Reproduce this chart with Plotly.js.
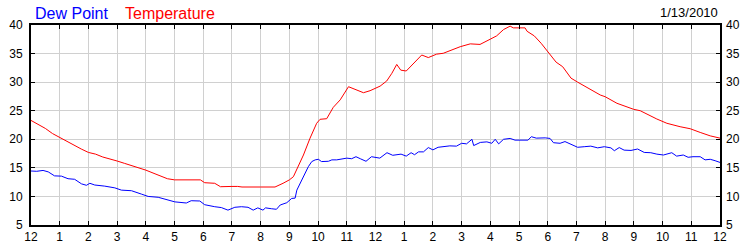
<!DOCTYPE html>
<html>
<head>
<meta charset="utf-8">
<script src="https://cdn.plot.ly/plotly-3.0.1.min.js"></script>
<style>html,body{margin:0;padding:0;background:#fff;}#chart{width:750px;height:250px;}</style>
</head>
<body>
<div id="chart"></div>
<script>
// Hours since midnight, 1/13/2010
const tempHours = [0,0.25,0.5,0.75,1.0,1.25,1.5,1.75,2.0,2.25,2.5,2.75,3.0,3.25,3.5,3.75,4.0,4.25,4.5,4.75,5.0,5.5,5.9,6.05,6.4,6.6,6.9,7.0,7.2,7.35,8.0,8.5,8.78,9.0,9.14,9.25,9.49,9.72,9.95,10.07,10.3,10.53,10.77,11.06,11.29,11.58,11.81,12.16,12.39,12.57,12.74,12.88,13.07,13.32,13.61,13.84,14.13,14.36,14.66,14.95,15.3,15.64,15.99,16.22,16.46,16.69,16.8,17.21,17.28,17.53,17.77,18.06,18.29,18.52,18.81,19.04,19.39,19.83,20.0,20.41,20.99,21.22,21.8,22.15,22.61,22.96,23.31,23.66,24.0];
const tempValues = [23.3,22.6,21.9,21.0,20.3,19.6,19.0,18.3,17.7,17.4,16.9,16.6,16.2,15.8,15.4,15.1,14.6,14.1,13.6,13.1,12.9,12.9,12.9,12.4,12.3,11.7,11.65,11.75,11.75,11.65,11.65,11.65,12.3,12.9,13.45,14.6,17.25,20.2,22.8,23.5,23.6,25.6,26.9,29.2,28.75,28.15,28.5,29.3,30.2,31.55,33.1,32.1,31.95,33.3,34.75,34.3,34.9,35.05,35.6,36.2,36.7,36.6,37.5,38.1,39.2,39.8,39.5,39.5,38.9,38.1,36.8,34.9,33.5,32.7,30.7,30.0,29.0,27.75,27.45,26.3,25.25,25.0,23.55,22.8,22.2,21.85,21.2,20.6,20.2];
const dewHours = [0,0.2,0.42,0.6,0.82,1.06,1.29,1.52,1.76,1.93,2.05,2.22,2.57,2.92,3.15,3.5,3.85,4.08,4.43,4.77,5.01,5.41,5.58,5.88,6.05,6.4,6.63,6.86,7.1,7.33,7.56,7.74,7.9,8.08,8.17,8.37,8.55,8.68,8.91,9.08,9.2,9.26,9.37,9.55,9.66,9.78,9.9,10.01,10.12,10.36,10.48,10.65,10.82,11.0,11.17,11.32,11.47,11.67,11.86,12.15,12.4,12.6,12.89,13.07,13.24,13.36,13.5,13.67,13.84,14.0,14.18,14.36,14.59,14.82,15.0,15.17,15.36,15.42,15.65,15.88,16.05,16.17,16.29,16.46,16.69,16.86,17.31,17.43,17.6,17.91,18.08,18.2,18.43,18.6,18.8,19.04,19.27,19.5,19.74,19.97,20.2,20.32,20.49,20.66,20.9,21.13,21.36,21.59,21.8,22.03,22.32,22.49,22.72,22.89,23.06,23.31,23.48,23.66,23.83,24.0];
const dewValues = [14.45,14.4,14.55,14.3,13.6,13.55,13.1,13.0,12.2,11.95,12.3,12.0,11.8,11.5,11.1,11.0,10.4,10.0,9.85,9.4,9.05,8.85,9.25,9.2,8.55,8.2,8.05,7.6,8.1,8.2,8.1,7.6,8.0,7.6,8.0,7.85,7.75,8.5,8.9,9.65,9.7,11.1,12.3,14.05,15.2,16.1,16.4,16.5,16.1,16.15,16.4,16.4,16.5,16.7,16.6,16.95,16.6,16.15,16.95,16.7,17.65,17.2,17.4,17.05,17.65,17.3,17.8,17.8,18.55,18.15,18.6,18.7,18.85,18.8,19.3,19.2,20.0,18.9,19.45,19.55,19.3,20.0,19.2,20.0,20.15,19.85,19.85,20.45,20.2,20.25,20.15,19.4,19.3,19.6,19.2,18.6,18.7,18.8,18.5,18.7,18.5,18.0,18.55,18.1,18.05,18.3,17.7,17.65,17.4,17.25,17.65,17.05,17.25,16.85,16.95,16.95,16.4,16.5,16.25,15.95];
const hourTicks = [0,1,2,3,4,5,6,7,8,9,10,11,12,13,14,15,16,17,18,19,20,21,22,23,24];
const hourLabels = ["12","1","2","3","4","5","6","7","8","9","10","11","12","1","2","3","4","5","6","7","8","9","10","11","12"];
const seriesNames = ["Dew Point","Temperature"];
const dateLabel = "1/13/2010";

const font = {family: "Liberation Sans, Arial, sans-serif", size: 12, color: "#000"};
const traces = [
  {x: dewHours, y: dewValues, type: "scatter", mode: "lines", name: seriesNames[0], line: {color: "#0000ff", width: 1}, hoverinfo: "skip"},
  {x: tempHours, y: tempValues, type: "scatter", mode: "lines", name: seriesNames[1], line: {color: "#ff0000", width: 1}, hoverinfo: "skip"},
  {x: [0], y: [5], yaxis: "y2", type: "scatter", mode: "markers", marker: {opacity: 0}, showlegend: false, hoverinfo: "skip"}
];
const layout = {
  width: 750, height: 250,
  margin: {l: 31, r: 30, t: 25, b: 25, pad: 0},
  paper_bgcolor: "#fff", plot_bgcolor: "#fff",
  showlegend: false,
  font: font,
  xaxis: {range: [0, 24], tickmode: "array", tickvals: hourTicks, ticktext: hourLabels,
    showgrid: true, gridcolor: "#d0d0d0", gridwidth: 1, zeroline: false,
    showline: true, linecolor: "#000", linewidth: 2, mirror: "ticks",
    ticks: "inside", ticklen: 4, tickcolor: "#000", tickfont: font, fixedrange: true},
  yaxis: {range: [5, 40], dtick: 5, tick0: 5,
    showgrid: true, gridcolor: "#d0d0d0", gridwidth: 1, zeroline: false,
    showline: true, linecolor: "#000", linewidth: 2, mirror: "ticks",
    ticks: "inside", ticklen: 4, tickcolor: "#000", tickfont: font, ticklabelstandoff: 4, fixedrange: true},
  yaxis2: {range: [5, 40], dtick: 5, tick0: 5, overlaying: "y", side: "right",
    showgrid: false, zeroline: false, showline: false, ticks: "", tickfont: font, ticklabelstandoff: 5, fixedrange: true},
  annotations: [
    {text: seriesNames[0], xref: "paper", yref: "paper", x: 0.003, y: 1.058, xanchor: "left", yanchor: "middle", showarrow: false, font: {family: font.family, size: 16, color: "#0000ff"}},
    {text: seriesNames[1], xref: "paper", yref: "paper", x: 0.1335, y: 1.058, xanchor: "left", yanchor: "middle", showarrow: false, font: {family: font.family, size: 16, color: "#ff0000"}},
    {text: dateLabel, xref: "paper", yref: "paper", x: 0.9995, y: 1.063, xanchor: "right", yanchor: "middle", showarrow: false, font: {family: font.family, size: 13, color: "#000"}}
  ]
};
Plotly.newPlot("chart", traces, layout, {displayModeBar: false, staticPlot: true});
</script>
</body>
</html>
